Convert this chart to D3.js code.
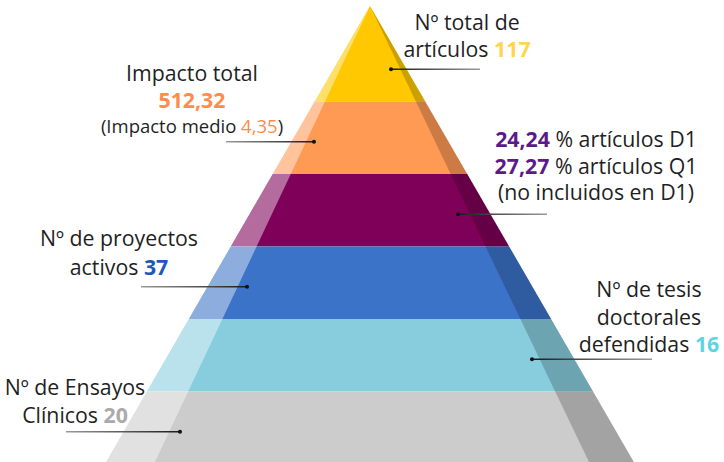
<!DOCTYPE html>
<html lang="es">
<head>
<meta charset="utf-8">
<title>Pirámide de producción científica</title>
<script src="https://cdn.jsdelivr.net/npm/d3@7"></script>
<style>
  body { margin: 0; background: #fff; }
  svg { display: block; font-family: "Open Sans", sans-serif; }
  .lbl { fill: #1f1f1f; font-size: 21.3px; }
  .num { font-weight: 700; }
</style>
</head>
<body>
<div id="chart"></div>
<script>
// levels of the pyramid, top to bottom
var levels = ["Artículos", "Impacto", "Cuartiles", "Proyectos", "Tesis", "Ensayos"];
var bandColors = ["#FFC800", "#FF9A55", "#7F0058", "#3B73C9", "#87CDDE", "#CCCCCC"];
var valueColors = ["#FFD54F", "#FF8C4B", "#5B1A8C", "#1E58B8", "#5ED3E3", "#AAAAAA"];

// values
var articulos = 117;
var impactoTotal = 512.32;
var impactoMedio = 4.35;
var pctD1 = 24.24;
var pctQ1 = 27.27;
var proyectos = 37;
var tesis = 16;
var ensayos = 20;

var width = 724, height = 462;
var es = d3.formatLocale({decimal: ",", thousands: ".", grouping: [3], currency: ["", " €"]});
var f2 = es.format(".2f"), f0 = es.format("d");

// each label: list of lines, each line a list of [text, kind]
var labels = [
  [[["Nº total de", "t"]], [["artículos ", "t"], [f0(articulos), "b"]]],
  [[["Impacto total", "t"]], [[f2(impactoTotal), "b"]], [["(Impacto medio ", "s"], [f2(impactoMedio), "sv"], [")", "s"]]],
  [[[f2(pctD1), "b"], [" % artículos D1", "t"]], [[f2(pctQ1), "b"], [" % artículos Q1", "t"]], [["(no incluidos en D1)", "t"]]],
  [[["Nº de proyectos", "t"]], [["activos ", "t"], [f0(proyectos), "b"]]],
  [[["Nº de tesis", "t"]], [["doctorales", "t"]], [["defendidas ", "t"], [f0(tesis), "b"]]],
  [[["Nº de Ensayos", "t"]], [["Clínicos ", "t"], [f0(ensayos), "b"]]]
];

// layout of the callouts (text centre, first baseline, line spacing, dot x, line end x)
var layout = [
  {tx: 467, ty: 30, lh: 27, dot: 391, end: 480},
  {tx: 192, ty: 81, lh: 26.5, dot: 314, end: 226},
  {tx: 596, ty: 147, lh: 26.5, dot: 458, end: 547},
  {tx: 119, ty: 246, lh: 28.5, dot: 247, end: 141},
  {tx: 649, ty: 297, lh: 27.5, dot: 532, end: 652},
  {tx: 75, ty: 395, lh: 28, dot: 180, end: 66}
];

var svg = d3.select("#chart").append("svg")
  .attr("width", width).attr("height", height);

var cx = 370, apexY = 6, baseY = 464;
var y = d3.scaleLinear().domain([0, levels.length]).range([29, baseY]);
var half = d3.scaleLinear().domain([apexY, baseY]).range([0, 265]);

// bands
var g = svg.append("g");
g.selectAll("path.band")
  .data(levels)
  .enter()
  .append("path")
  .attr("class", "band")
  .attr("fill", function(d, i){ return bandColors[i]; })
  .attr("d", function(d, i){
    var y0 = i === 0 ? apexY : y(i), y1 = y(i + 1);
    return "M" + (cx - half(y0)) + "," + y0 + "L" + (cx + half(y0)) + "," + y0 +
      "L" + (cx + half(y1)) + "," + y1 + "L" + (cx - half(y1)) + "," + y1 + "Z";
  });

// light side on the left, shadow on the right
var hb = half(baseY);
g.append("path")
  .attr("d", "M" + cx + "," + apexY + "L" + (cx - hb) + "," + baseY + "L" + (cx - hb * 0.815) + "," + baseY + "Z")
  .attr("fill", "#fff").attr("fill-opacity", 0.42);
g.append("path")
  .attr("d", "M" + cx + "," + apexY + "L" + (cx + hb) + "," + baseY + "L" + (cx + hb * 0.83) + "," + baseY + "Z")
  .attr("fill", "#000").attr("fill-opacity", 0.2);

// callout lines
var defs = svg.append("defs");
var call = svg.append("g");
levels.forEach(function(d, i){
  var L = layout[i], ly = y(i + 0.5) + 4;
  var gid = "grad" + i;
  var gr = defs.append("linearGradient").attr("id", gid)
    .attr("gradientUnits", "userSpaceOnUse")
    .attr("x1", L.dot).attr("y1", ly).attr("x2", L.end).attr("y2", ly);
  gr.append("stop").attr("offset", "0%").attr("stop-color", "#1a1a1a");
  gr.append("stop").attr("offset", "100%").attr("stop-color", "#9a9a9a");
  call.append("line")
    .attr("x1", L.dot).attr("x2", L.end).attr("y1", ly).attr("y2", ly + 0.01)
    .attr("stroke", "url(#" + gid + ")").attr("stroke-width", 1.5);
  call.append("circle").attr("cx", L.dot).attr("cy", ly).attr("r", 2).attr("fill", "#111");
});

// texts
var txt = svg.append("g");
labels.forEach(function(lines, i){
  var L = layout[i];
  var t = txt.append("text").attr("class", "lbl")
    .attr("text-anchor", "middle");
  lines.forEach(function(line, j){
    var small = line.some(function(s){ return s[1] === "s"; });
    line.forEach(function(seg, k){
      var ts = t.append("tspan").text(seg[0]);
      if (k === 0) ts.attr("x", L.tx).attr("y", L.ty + j * L.lh - (small ? 1 : 0));
      if (seg[1] === "b") ts.attr("class", "num").attr("fill", valueColors[i]);
      if (seg[1] === "s" || seg[1] === "sv") ts.attr("font-size", "18.5px");
      if (seg[1] === "sv") ts.attr("fill", valueColors[i]);
    });
  });
});
</script>
</body>
</html>
